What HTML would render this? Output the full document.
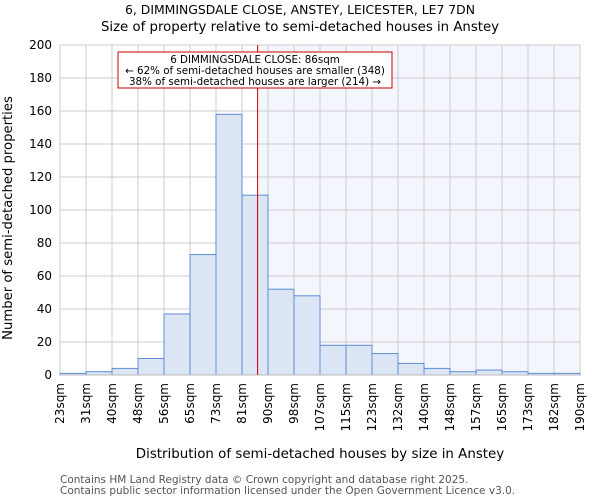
<!DOCTYPE html>
<html><head><meta charset="utf-8"><style>
body{margin:0;background:#fff;font-family:"DejaVu Sans","Liberation Sans",sans-serif;}
svg text{font-family:"DejaVu Sans","Liberation Sans",sans-serif;}
</style></head><body>
<svg id="c" width="600" height="500">
<text x="300" y="14" text-anchor="middle" font-size="12.4">6, DIMMINGSDALE CLOSE, ANSTEY, LEICESTER, LE7 7DN</text>
<text x="300" y="31" text-anchor="middle" font-size="13.3">Size of property relative to semi-detached houses in Anstey</text>
<g id="plot"></g>
<text x="320" y="458" text-anchor="middle" font-size="13.4">Distribution of semi-detached houses by size in Anstey</text>
<text transform="translate(12,218) rotate(-90)" text-anchor="middle" font-size="13.2">Number of semi-detached properties</text>
<text x="60" y="483" font-size="10.5" fill="#555">Contains HM Land Registry data © Crown copyright and database right 2025.</text>
<text x="60" y="494" font-size="10.5" fill="#555">Contains public sector information licensed under the Open Government Licence v3.0.</text>
</svg>
<script>
const binLabels=["23sqm","31sqm","40sqm","48sqm","56sqm","65sqm","73sqm","81sqm","90sqm","98sqm","107sqm","115sqm","123sqm","132sqm","140sqm","148sqm","157sqm","165sqm","173sqm","182sqm","190sqm"];
const counts=[1,2,4,10,37,73,158,109,52,48,18,18,13,7,4,2,3,2,1,1];
const yTicks=[0,20,40,60,80,100,120,140,160,180,200];
const markerBin=7.6;
const NS="http://www.w3.org/2000/svg";
const L=60,R=580,T=45,B=375;
const bw=(R-L)/counts.length;
const xs=i=>L+i*bw;
const ys=v=>B-(v/200)*(B-T);
const g=document.getElementById('plot');
function el(t,a){const e=document.createElementNS(NS,t);for(const k in a)e.setAttribute(k,a[k]);g.appendChild(e);return e;}
const mx=xs(markerBin);
let e=el('rect',{x:mx,y:T,width:R-mx,height:B-T,fill:'#f3f6fd'});


yTicks.forEach(v=>{
  let l=el('line',{x1:L,x2:R,y1:ys(v),y2:ys(v),stroke:'#ccc','stroke-width':1});
  
  
  let t=el('text',{x:L-8,y:ys(v)+4,'text-anchor':'end','font-size':12});
  t.textContent=v;
  
  
});
binLabels.forEach((s,i)=>{
  let l=el('line',{x1:xs(i),x2:xs(i),y1:T,y2:B,stroke:'#ccc','stroke-width':1});
  
  
  let t=el('text',{transform:`translate(${xs(i)+4},${B+8}) rotate(-90)`,'text-anchor':'end','font-size':12});
  t.textContent=s;
  
  
});
counts.forEach((v,i)=>{
  let r=el('rect',{x:xs(i),y:ys(v),width:bw,height:B-ys(v),fill:'#dbe5f4',stroke:'#5b8dd6','stroke-width':1});
  
  
});
let ax=el('line',{x1:L,x2:R,y1:B,y2:B,stroke:'#bbb','stroke-width':1});


let ml=el('line',{x1:mx,x2:mx,y1:T,y2:B,stroke:'#c00','stroke-width':1});


let box=el('rect',{x:118,y:52,width:274,height:36,fill:'#fff',stroke:'#c00','stroke-width':1});


["6 DIMMINGSDALE CLOSE: 86sqm","← 62% of semi-detached houses are smaller (348)","38% of semi-detached houses are larger (214) →"].forEach((s,i)=>{
  let t=el('text',{x:255,y:63+i*11,'text-anchor':'middle','font-size':10.3});
  t.textContent=s;
  
  
});
</script>
</body></html>
